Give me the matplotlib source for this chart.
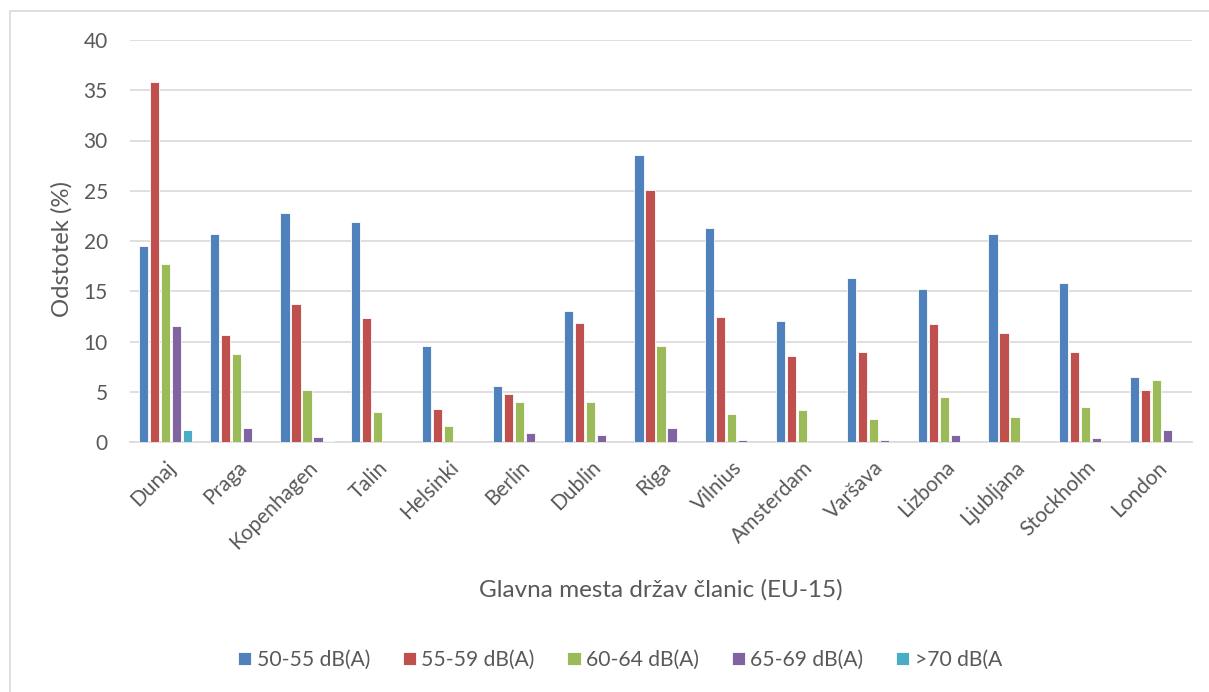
import matplotlib
matplotlib.use("Agg")
import matplotlib.pyplot as plt
import numpy as np

cities = ["Dunaj", "Praga", "Kopenhagen", "Talin", "Helsinki", "Berlin", "Dublin",
          "Riga", "Vilnius", "Amsterdam", "Varšava", "Lizbona", "Ljubljana",
          "Stockholm", "London"]

s_50_55 = [19.5, 20.7, 22.8, 21.9, 9.55, 5.6, 13.05, 28.55, 21.3, 12.05, 16.3, 15.25, 20.7, 15.8, 6.45]
s_55_59 = [35.8, 10.6, 13.75, 12.3, 3.25, 4.75, 11.8, 25.1, 12.45, 8.6, 9.0, 11.7, 10.8, 9.0, 5.15]
s_60_64 = [17.75, 8.75, 5.15, 2.95, 1.55, 4.0, 3.95, 9.6, 2.75, 3.2, 2.25, 4.45, 2.45, 3.45, 6.15]
s_65_69 = [11.5, 1.35, 0.45, 0.0, 0.0, 0.85, 0.7, 1.35, 0.15, 0.0, 0.15, 0.65, 0.0, 0.35, 1.2]
s_70 = [1.2, 0.0, 0.1, 0.0, 0.0, 0.0, 0.0, 0.0, 0.0, 0.0, 0.0, 0.0, 0.0, 0.0, 0.0]

series_labels = ["50-55 dB(A)", "55-59 dB(A)", "60-64 dB(A)", "65-69 dB(A)", ">70 dB(A"]
series = [s_50_55, s_55_59, s_60_64, s_65_69, s_70]
colors = ["#4F81BD", "#C0504D", "#9BBB59", "#8064A2", "#4BACC6"]

text_color = "#595959"
plt.rcParams["font.family"] = ["Lato", "DejaVu Sans"]

fig = plt.figure(figsize=(12.09, 6.92), dpi=100)
ax = fig.add_axes([130 / 1209, 1 - 442 / 692, (1192 - 130) / 1209, (442 - 40) / 692])

x = np.arange(len(cities))
pitch = 0.155
width = 0.13
for i, (vals, col, lab) in enumerate(zip(series, colors, series_labels)):
    offs = (i - 2) * pitch
    ax.bar(x + offs, vals, width=width, color=col, label=lab,
           edgecolor="white", linewidth=0.6, zorder=3)

ax.set_xlim(-0.5, len(cities) - 0.5)
ax.set_ylim(0, 40)
ax.set_yticks(range(0, 41, 5))
ax.grid(axis="y", color="#D9D9D9", linewidth=1.2, zorder=0)
ax.set_axisbelow(True)
for side in ["left", "right", "top"]:
    ax.spines[side].set_visible(False)
ax.spines["bottom"].set_color("#D9D9D9")
ax.spines["bottom"].set_linewidth(1.2)
ax.tick_params(axis="both", length=0, colors=text_color, labelsize=15)
ax.tick_params(axis="y", pad=16)
ax.set_xticks(x)
ax.set_xticklabels(cities, rotation=45, ha="right", rotation_mode="anchor")
ax.tick_params(axis="x", pad=11)

fig.text(62 / 1209, 1 - 249 / 692, "Odstotek (%)", rotation=90, ha="center",
         va="center", fontsize=17.2, color=text_color)
fig.text(661 / 1209, 1 - 590 / 692, "Glavna mesta držav članic (EU-15)", ha="center",
         va="center", fontsize=17.5, color=text_color)

fig.legend(loc="center", bbox_to_anchor=(620 / 1209, 1 - 660 / 692), ncol=5,
           frameon=False, fontsize=15.2, labelcolor=text_color, handlelength=0.63,
           handleheight=0.63, handletextpad=0.25, columnspacing=1.55)

# chart area frame
frame = plt.Rectangle((10 / 1209, -0.05), 1.2, 1 - 11 / 692 + 0.05, transform=fig.transFigure,
                      fill=False, edgecolor="#D9D9D9", linewidth=1.2)
fig.patches.append(frame)

fig.savefig("out.png", dpi=100)
